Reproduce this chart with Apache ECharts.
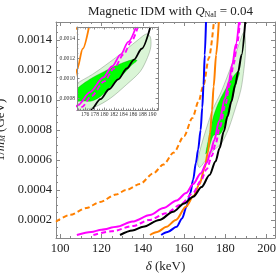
<!DOCTYPE html>
<html>
<head>
<meta charset="utf-8">
<script src="https://cdn.jsdelivr.net/npm/echarts@6/dist/echarts.min.js"></script>
<style>html,body{margin:0;padding:0;background:#fff}#c{width:280px;height:275px}</style>
</head>
<body>
<div id="c"></div>
<script>
// ---------- data ----------
const titleText = 'Magnetic IDM with {i|Q}{s|NaI} = 0.04';
const xName = '{i|δ} (keV)';
const yName = '1/{i|m}{s|M} (GeV)';
const xTicksMain = [100, 120, 140, 160, 180, 200];
const yTicksMain = [0.0002, 0.0004, 0.0006, 0.0008, 0.0010, 0.0012, 0.0014];
const xTicksInset = [176, 178, 180, 182, 184, 186, 188, 190];
const yTicksInset = [0.0008, 0.0010, 0.0012, 0.0014];

const orangeDashed = [[98,0.000188],[105,0.000235],[112.7,0.00028],[119.3,0.00032],[127,0.00037],[132,0.0004],[138.6,0.00044],[145,0.00051],[150,0.00057],[155,0.00065],[160,0.00076],[164,0.00088],[167,0.00099],[169.4,0.0011],[172,0.00128],[174.4,0.00152]];
const blue = [[148.9,0.0001],[152,0.00012],[156.4,0.000155],[159,0.00021],[161.2,0.00029],[163,0.00038],[164.4,0.00047],[165.7,0.00058],[166.8,0.00067],[168,0.0008],[168.8,0.00095],[169.4,0.0011],[170,0.0013],[170.6,0.00152]];
const orange = [[143.5,0.0001],[147,0.00012],[151.5,0.000155],[156,0.0002],[161,0.00029],[164.5,0.00036],[167.5,0.00044],[170,0.00055],[171.5,0.00065],[172.6,0.00078],[173.5,0.00093],[174.3,0.00109],[175.5,0.0013],[176.8,0.00152]];
const magenta = [[108.1,0.0001],[115,0.00012],[120,0.000135],[127.4,0.000155],[135,0.00019],[143.5,0.000233],[150,0.00028],[156.4,0.00033],[161,0.00038],[164.4,0.00044],[168,0.00051],[170.9,0.00058],[173,0.00066],[174.5,0.00073],[177,0.00086],[179.8,0.00101],[181.6,0.00112],[183.4,0.00124],[185,0.00137],[186.6,0.00152]];
const magentaDashed = [[116.1,0.0001],[125,0.000125],[135.4,0.00016],[143,0.0002],[151.5,0.000245],[158,0.0003],[164.4,0.00038],[168,0.00046],[171,0.00054],[173.5,0.00063],[175.3,0.00071],[177.3,0.00082],[180,0.00097],[182,0.0011],[184,0.00124],[185.6,0.00137],[187,0.00152]];
const black = [[129,0.0001],[135,0.00013],[140.2,0.000155],[148,0.0002],[154.7,0.000255],[160,0.00031],[164.4,0.000355],[168.5,0.00042],[172.3,0.0005],[175.2,0.00059],[177.2,0.00068],[179.2,0.00079],[181,0.00089],[182.9,0.00099],[184.7,0.0011],[186.2,0.00119],[187.8,0.0013],[189.6,0.00152]];
const lightGreen = [[166.5,0.00058],[168,0.00068],[171,0.00082],[174,0.00094],[177.5,0.00104],[181,0.00116],[184.5,0.00129],[187.3,0.0014],[188.8,0.00145],[189.6,0.00142],[189.7,0.00132],[189,0.00121],[187.5,0.00107],[184.7,0.00094],[181.3,0.0008],[178,0.00071],[174,0.00066],[170,0.00059],[167.5,0.00055]];
const darkGreen = [[170.5,0.00064],[172,0.00075],[174,0.00088],[176,0.00096],[178,0.00102],[180,0.00107],[182,0.00112],[184,0.00116],[186,0.00119],[186.8,0.00118],[185.6,0.00113],[184.3,0.00106],[182.6,0.00098],[180.8,0.00089],[179,0.00081],[177.3,0.00077],[175.5,0.00077],[174,0.00076],[172,0.00068]];

// ---------- helpers ----------
const FONT = 'Liberation Serif';
const FRAME = '#888';
function range(a, b, s) { const r = []; for (let v = a; v <= b + s * 1e-6; v += s) r.push(+v.toPrecision(10)); return r; }

const MAIN = { left: 56, top: 22, width: 219, height: 216 };
const INSET = { left: 77, top: 27, width: 81, height: 83 };
const MX = [98, 204], MY = [0.00008, 0.00152];
const IX = [174.3, 191.2], IY = [0.00068, 0.00152];

function gridOpt(r, extra) { return Object.assign({ left: r.left, top: r.top, width: r.width, height: r.height, containLabel: false, outerBoundsMode: 'none' }, extra || {}); }

function frameAxes(g, xr, yr, xt, yt, len, showFrame, xLabel, yLabel, xNm, yNm, z) {
  const line = { show: showFrame, onZero: false, lineStyle: { color: FRAME, width: 1 } };
  const tick = (vals) => ({ show: true, inside: true, length: len, customValues: vals, lineStyle: { color: FRAME, width: 1 } });
  const xs = [
    { type: 'value', gridIndex: g, min: xr[0], max: xr[1], position: 'bottom', splitLine: { show: false }, axisLine: line, axisTick: tick(xt),
      axisLabel: xLabel || { show: false }, name: xNm ? xNm.text : '', nameLocation: 'middle', nameGap: xNm ? xNm.gap : 0, nameTextStyle: xNm ? xNm.style : {}, z: z },
    { type: 'value', gridIndex: g, min: xr[0], max: xr[1], position: 'top', splitLine: { show: false }, axisLine: line, axisTick: tick(xt), axisLabel: { show: false }, z: z }
  ];
  const ys = [
    { type: 'value', gridIndex: g, min: yr[0], max: yr[1], position: 'left', splitLine: { show: false }, axisLine: line, axisTick: tick(yt),
      axisLabel: yLabel || { show: false }, name: yNm ? yNm.text : '', nameLocation: 'middle', nameRotate: 90, nameGap: yNm ? yNm.gap : 0, nameTextStyle: yNm ? yNm.style : {}, z: z },
    { type: 'value', gridIndex: g, min: yr[0], max: yr[1], position: 'right', splitLine: { show: false }, axisLine: line, axisTick: tick(yt), axisLabel: { show: false }, z: z }
  ];
  return { xs, ys };
}

const mainXLabel = { show: true, customValues: xTicksMain, fontFamily: FONT, fontSize: 12.5, color: '#222', margin: 4 };
const mainYLabel = { show: true, customValues: yTicksMain, fontFamily: FONT, fontSize: 12.5, color: '#222', margin: 4, formatter: v => v.toFixed(4) };
const insetXLabel = { show: true, customValues: xTicksInset, fontFamily: FONT, fontSize: 5.6, color: '#333', margin: 2 };
const insetYLabel = { show: true, customValues: yTicksInset, fontFamily: FONT, fontSize: 5.6, color: '#333', margin: 2, formatter: v => v.toFixed(4) };
const nameStyle = { fontFamily: FONT, fontSize: 13, color: '#222',
  rich: { i: { fontFamily: FONT, fontSize: 13, fontStyle: 'italic', color: '#222' },
          s: { fontFamily: FONT, fontSize: 8, fontStyle: 'italic', color: '#222', padding: [5, 0, 0, 0] } } };

const A0 = frameAxes(0, MX, MY, xTicksMain, yTicksMain, 4, true, mainXLabel, mainYLabel, { text: xName, gap: 22, style: nameStyle }, { text: yName, gap: 44, style: nameStyle }, 2);
const A1 = frameAxes(1, MX, MY, range(100, 200, 5), range(0.0001, 0.0015, 0.00005), 2, false, null, null, null, null, 2);
const A2 = frameAxes(2, IX, IY, xTicksInset, yTicksInset, 2.5, true, insetXLabel, insetYLabel, null, null, 6);
const A3 = frameAxes(3, IX, IY, range(174.5, 191, 0.5), range(0.0007, 0.0015, 0.00005), 1.3, false, null, null, null, null, 6);

function polySeries(poly, fill, stroke, axisIdx, z) {
  return { type: 'custom', xAxisIndex: axisIdx, yAxisIndex: axisIdx, clip: true, silent: true, data: [0], z: z,
    renderItem: function (params, api) {
      return { type: 'polygon', shape: { points: poly.map(p => api.coord(p)), smooth: 0.3 },
               style: { fill: fill, stroke: stroke, lineWidth: 0.6 } };
    } };
}
function lineSeries(data, color, width, dash, axisIdx, z) {
  return { type: 'line', data: data, xAxisIndex: axisIdx, yAxisIndex: axisIdx, showSymbol: false, symbol: 'none',
    smooth: 0.3, smoothMonotone: 'x', clip: true, silent: true, z: z,
    lineStyle: { color: color, width: width, type: dash || 'solid', cap: 'butt' } };
}
function allSeries(axisIdx, w, z) {
  return [
    polySeries(lightGreen, '#daf5d6', 'rgba(110,130,110,0.7)', axisIdx, z),
    polySeries(darkGreen, '#00ff00', 'rgba(0,160,0,0.6)', axisIdx, z),
    lineSeries(orangeDashed, '#ff8000', w, [5, 3], axisIdx, z),
    lineSeries(blue, '#0000ff', w, null, axisIdx, z),
    lineSeries(orange, '#ff8000', w, null, axisIdx, z),
    lineSeries(magenta, '#ff00ff', w, null, axisIdx, z),
    lineSeries(magentaDashed, '#ff00ff', w, [5, 3], axisIdx, z),
    lineSeries(black, '#000000', w, null, axisIdx, z)
  ];
}

const chart = echarts.init(document.getElementById('c'), null, { renderer: 'canvas' });
chart.setOption({
  animation: false,
  backgroundColor: '#fff',
  title: { text: titleText, left: 165.5, top: 0, textAlign: 'center',
    textStyle: { fontFamily: FONT, fontSize: 13, fontWeight: 'normal', color: '#222',
      rich: { i: { fontFamily: FONT, fontSize: 13, fontStyle: 'italic', color: '#222' },
              s: { fontFamily: FONT, fontSize: 8, color: '#222', padding: [6, 0, 0, 0] } } } },
  grid: [
    gridOpt(MAIN), gridOpt(MAIN),
    gridOpt(INSET, { show: true, backgroundColor: '#fff', borderWidth: 0, z: 4 }), gridOpt(INSET)
  ],
  xAxis: [].concat(A0.xs, A1.xs, A2.xs, A3.xs),
  yAxis: [].concat(A0.ys, A1.ys, A2.ys, A3.ys),
  series: [].concat(allSeries(0, 2, 2), allSeries(4, 1.8, 5))
});
</script>
</body>
</html>
